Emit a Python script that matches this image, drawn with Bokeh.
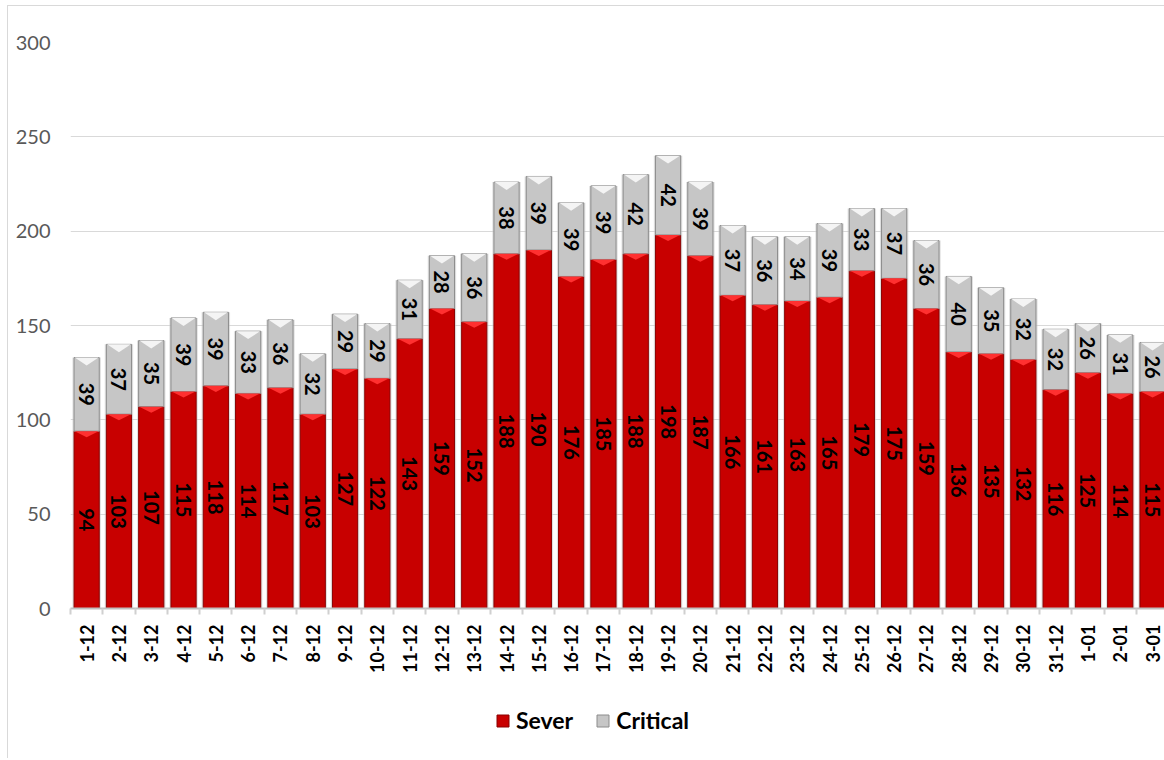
import math
from bokeh.plotting import figure
from bokeh.layouts import column
from bokeh.models import Range1d, FixedTicker, Legend, LegendItem, ColumnDataSource
from bokeh.embed import file_html
from bokeh.resources import INLINE
from bokeh.core.properties import value

dates = ["1-12", "2-12", "3-12", "4-12", "5-12", "6-12", "7-12", "8-12", "9-12", "10-12",
         "11-12", "12-12", "13-12", "14-12", "15-12", "16-12", "17-12", "18-12", "19-12", "20-12",
         "21-12", "22-12", "23-12", "24-12", "25-12", "26-12", "27-12", "28-12", "29-12", "30-12",
         "31-12", "1-01", "2-01", "3-01"]
sever = [94, 103, 107, 115, 118, 114, 117, 103, 127, 122, 143, 159, 152, 188, 190, 176, 185,
         188, 198, 187, 166, 161, 163, 165, 179, 175, 159, 136, 135, 132, 116, 125, 114, 115]
critical = [39, 37, 35, 39, 39, 33, 36, 32, 29, 29, 31, 28, 36, 38, 39, 39, 39, 42, 42, 39,
            37, 36, 34, 39, 33, 37, 36, 40, 35, 32, 32, 26, 31, 26]
y_ticks = [0, 50, 100, 150, 200, 250, 300]

FONT = "Lato"
BW = 0.78
RED = "#c80000"
GRAY = "#c6c6c6"

xs = list(range(len(dates)))
totals = [s + c for s, c in zip(sever, critical)]
src = ColumnDataSource(dict(
    x=xs, sever=sever, critical=critical, total=totals,
    sev_mid=[s / 2 for s in sever],
    crit_mid=[s + c / 2 for s, c in zip(sever, critical)],
    sev_txt=[str(v) for v in sever], crit_txt=[str(v) for v in critical],
))

p = figure(width=1156, height=672, output_backend="svg", toolbar_location=None,
           x_range=Range1d(-0.5, 33.37), y_range=Range1d(0, 300),
           min_border_left=62, min_border_right=0, min_border_top=36, min_border_bottom=70)
p.outline_line_color = None
p.background_fill_color = "white"
p.border_fill_color = "white"

# shadow
p.vbar(x="x", top="total", bottom=0, width=BW + 0.1, source=src,
       fill_color="#c4c4c4", fill_alpha=0.55, line_color=None)

r_sev = p.vbar(x="x", top="sever", bottom=0, width=BW, source=src,
               fill_color=RED, line_color="#8a0000", line_width=1)
r_crit = p.vbar(x="x", top="total", bottom="sever", width=BW, source=src,
                fill_color=GRAY, line_color="#8c8c8c", line_width=1)

# bevel highlights (derived from data)
d_red = 3.2
d_gray = 4.2
red_xs, red_ys, gr_xs, gr_ys = [], [], [], []
for i, s, t in zip(xs, sever, totals):
    red_xs.append([i - BW / 2 + 0.02, i + BW / 2 - 0.02, i])
    red_ys.append([s, s, s - d_red])
    gr_xs.append([i - BW / 2 + 0.02, i + BW / 2 - 0.02, i])
    gr_ys.append([t, t, t - d_gray])
p.patches(red_xs, red_ys, fill_color="#ff3030", line_color=None)
p.patches(gr_xs, gr_ys, fill_color="#f4f4f4", line_color=None)

# data labels
p.text(x="x", y="sev_mid", text="sev_txt", source=src, angle=-math.pi / 2,
       text_font=value(FONT), text_font_style="bold", text_font_size="20px",
       text_align="center", text_baseline="middle", text_color="black")
p.text(x="x", y="crit_mid", text="crit_txt", source=src, angle=-math.pi / 2,
       text_font=value(FONT), text_font_style="bold", text_font_size="20px",
       text_align="center", text_baseline="middle", text_color="black")

# axes
p.xgrid.grid_line_color = None
p.ygrid.grid_line_color = "#d9d9d9"
p.ygrid.grid_line_width = 1

p.yaxis.ticker = FixedTicker(ticks=y_ticks)
p.yaxis.axis_line_color = None
p.yaxis.major_tick_line_color = None
p.yaxis.minor_tick_line_color = None
p.yaxis.major_tick_out = 0
p.yaxis.major_tick_in = 0
p.yaxis.major_label_standoff = 20
p.yaxis.major_label_text_font = FONT
p.yaxis.major_label_text_font_size = "20px"
p.yaxis.major_label_text_color = "#595959"

p.xaxis.ticker = FixedTicker(ticks=xs, minor_ticks=[i - 0.5 for i in xs] + [xs[-1] + 0.5])
p.xaxis.major_label_overrides = {i: d for i, d in zip(xs, dates)}
p.xaxis.major_label_orientation = math.pi / 2
p.xaxis.axis_line_color = "#bfbfbf"
p.xaxis.axis_line_width = 2
p.xaxis.major_tick_line_color = None
p.xaxis.major_tick_out = 0
p.xaxis.major_tick_in = 0
p.xaxis.minor_tick_line_color = "#d0d0d0"
p.xaxis.minor_tick_out = 6
p.xaxis.minor_tick_in = 0
p.xaxis.minor_tick_line_width = 2
p.xaxis.major_label_standoff = 10
p.xaxis.major_label_text_font = FONT
p.xaxis.major_label_text_font_style = "bold"
p.xaxis.major_label_text_font_size = "18px"
p.xaxis.major_label_text_color = "black"

# legend figure (its placeholder glyphs sit outside the visible range)
p2 = figure(width=1156, height=80, output_backend="svg", toolbar_location=None,
            x_range=Range1d(0, 1), y_range=Range1d(0, 1),
            min_border_left=0, min_border_right=0, min_border_top=0, min_border_bottom=0)
p2.axis.visible = False
p2.grid.visible = False
p2.outline_line_color = None
l_sev = p2.vbar(x=[5], top=[5], bottom=[4], width=0.1, fill_color=RED, line_color="#8a0000")
l_crit = p2.vbar(x=[5], top=[5], bottom=[4], width=0.1, fill_color=GRAY, line_color="#8c8c8c")

legend = Legend(items=[LegendItem(label="Sever", renderers=[l_sev], index=0),
                       LegendItem(label="Critical", renderers=[l_crit], index=0)],
                orientation="horizontal", location=(425, 24))
legend.label_text_font = FONT
legend.label_text_font_style = "bold"
legend.label_text_font_size = "23px"
legend.label_text_color = "black"
legend.glyph_width = 15
legend.glyph_height = 15
legend.label_standoff = 6
legend.spacing = 22
legend.padding = 0
legend.margin = 0
legend.border_line_color = None
legend.background_fill_alpha = 0
p2.add_layout(legend, "center")

layout = column(p, p2, margin=(5, 0, 0, 7), spacing=0,
                styles={"border-left": "1px solid #d9d9d9", "border-top": "1px solid #d9d9d9"})

open("out.html", "w").write(file_html(layout, INLINE))
